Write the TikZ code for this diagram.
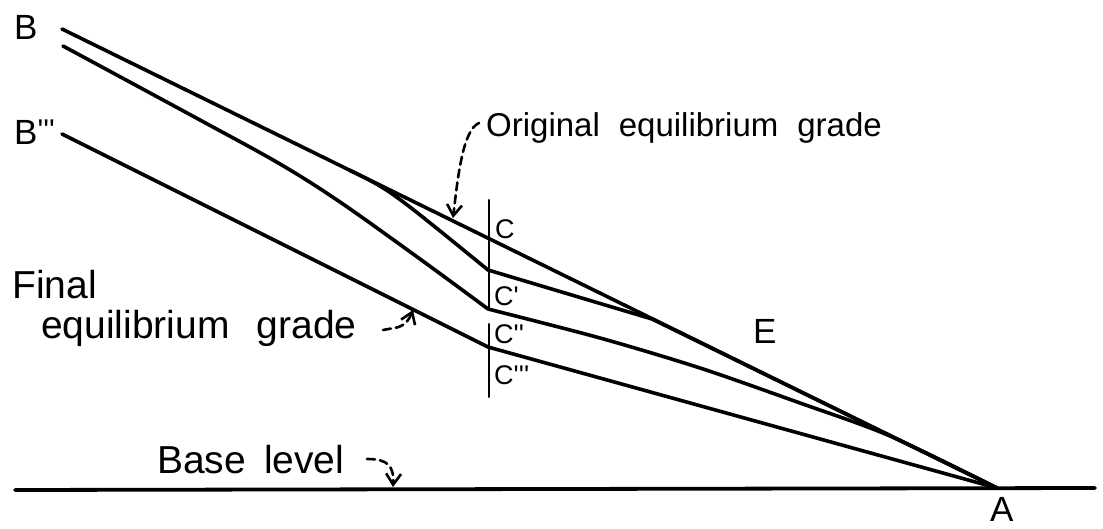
\documentclass[tikz,border=0pt]{standalone}
\usepackage{fontspec}
\setmainfont{Liberation Sans}
\usetikzlibrary{arrows.meta}
\newcommand{\pq}{\textquotesingle}
\begin{document}
\begin{tikzpicture}[x=1pt,y=-1pt,line cap=round,line join=round,
  grade/.style={line width=3.6pt},
  base/.style={line width=3.8pt},
  section/.style={line width=2pt},
  guide/.style={line width=2.6pt,dash pattern=on 8pt off 5pt,
     -{Straight Barb[length=11pt,width=15pt,line width=2.6pt]}},
  lbl/.style={inner sep=0pt,anchor=base west,font=\fontsize{35}{40}\selectfont},
  big/.style={inner sep=0pt,anchor=base west,font=\fontsize{39}{44}\selectfont},
  orig/.style={inner sep=0pt,anchor=base west,font=\fontsize{33}{38}\selectfont},
  clbl/.style={inner sep=0pt,anchor=base west,font=\fontsize{27}{30}\selectfont}]
\useasboundingbox (0,0) rectangle (1103,529);

% key points
\coordinate (B) at (62,29);
\coordinate (Bpp) at (63,46);
\coordinate (Bppp) at (62,134);
\coordinate (A) at (997,488);
\coordinate (split) at (350,170.4);
\coordinate (ctl) at (390,190);
\coordinate (C0) at (488,239);
\coordinate (C1) at (488,270);
\coordinate (C2) at (488,309);
\coordinate (C3) at (488,347);
\coordinate (M1) at (652,319);
\coordinate (V1) at (489,200);
\coordinate (V2) at (489,308);
\coordinate (V3) at (489,324);
\coordinate (V4) at (489,397);
\coordinate (L0) at (15,490);
\coordinate (L1) at (1095,488);

% base level
\draw[base] (L0) -- (L1);

% section line through C
\draw[section] (V1) -- (V2);
\draw[section] (V3) -- (V4);

% original equilibrium grade B - A
\draw[grade] (B) -- (A);
% profile through C'
\draw[grade] (split) .. controls (ctl) .. (C1) -- (M1) -- (A);
% profile through C''
\draw[grade] plot[smooth,tension=0.55] coordinates
  {(63,46) (200,120) (280,164) (340,202) (420,259) (488,309)};
\draw[grade] plot[smooth,tension=0.5] coordinates
  {(488,309) (600,338) (700,368) (800,403) (890,436) (997,488)};
% final equilibrium grade B''' - A
\draw[grade] (Bppp) -- (C3) -- (A);

% labels
\node[lbl] (lB) at (14,40) {B};
\node[lbl] (lBppp) at (14,145) {B\raisebox{4pt}{\fontsize{30}{30}\selectfont\pq\pq\pq}};
\node[orig] (lorig) at (486,137) {Original\hspace{19pt}equilibrium\hspace{19pt}grade};
\node[big] (lfinal) at (12,299) {Final};
\node[big] (lfinal2) at (41,338) {equilibrium\hspace{27pt}grade};
\node[big] (lbase) at (157,473) {Base\hspace{18pt}level};
\node[lbl] (lE) at (753,344) {E};
\node[lbl] (lA) at (990,521) {A};
\node[clbl] (lC) at (495,239) {C};
\node[clbl] (lC1) at (494,306) {C\pq};
\node[clbl] (lC2) at (494,344) {C\pq\pq};
\node[clbl] (lC3) at (494,384) {C\pq\pq\pq};

% pointer arrows
\coordinate (s1) at (479,123);
\coordinate (t1) at (453,218);
\coordinate (s2) at (383,330);
\coordinate (t2) at (413,310);
\coordinate (s3) at (367,459);
\coordinate (t3) at (393,487);
\draw[guide] (s1) .. controls (463,130) and (458,175) .. (t1);
\draw[guide] (s2) -- (394,328) .. controls (404,327) and (409,320) .. (t2);
\draw[guide] (s3) .. controls (388,459) and (394,466) .. (t3);
\end{tikzpicture}
\end{document}
